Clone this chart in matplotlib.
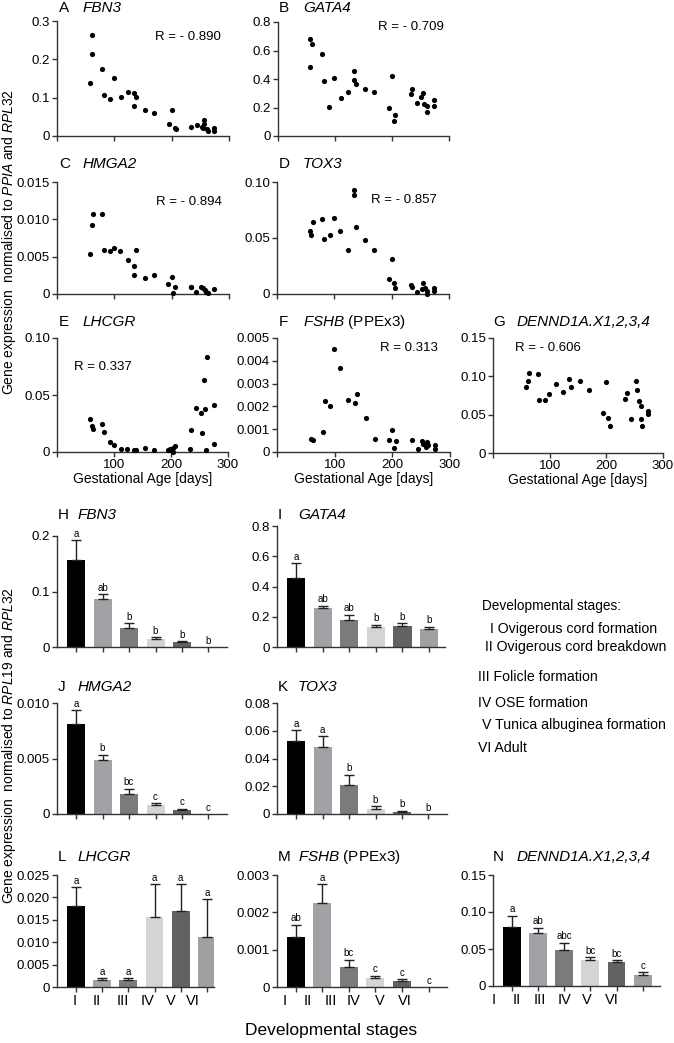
import matplotlib
matplotlib.use("Agg")
import matplotlib.pyplot as plt

plt.rcParams['font.family'] = ['Liberation Sans', 'DejaVu Sans']
plt.rcParams['mathtext.fontset'] = 'custom'
plt.rcParams['mathtext.rm'] = 'Liberation Sans'
plt.rcParams['mathtext.it'] = 'Liberation Sans:italic'

# ---- scatter data (gestational age in days vs expression) ----
A_age = [61.6, 61, 57, 79, 82, 92, 99, 111, 123, 135, 138, 135, 154, 170, 195, 201, 205, 207,
         234, 244, 253, 257, 256, 254, 262, 263, 274, 274]
A_val = [0.263, 0.215, 0.139, 0.176, 0.108, 0.097, 0.152, 0.101, 0.114, 0.111, 0.102, 0.078,
         0.069, 0.060, 0.031, 0.067, 0.022, 0.019, 0.024, 0.028, 0.024, 0.043, 0.031, 0.020,
         0.017, 0.012, 0.020, 0.013]

B_age = [57, 60, 57, 78, 81, 98, 90, 110, 123, 134, 134, 137, 153, 169, 194, 200, 205, 203,
         235, 233, 244, 254, 251, 257, 262, 262, 274, 274]
B_val = [0.682, 0.649, 0.482, 0.572, 0.383, 0.407, 0.207, 0.270, 0.308, 0.456, 0.395, 0.367,
         0.332, 0.308, 0.200, 0.421, 0.148, 0.108, 0.330, 0.296, 0.230, 0.301, 0.277, 0.224,
         0.212, 0.167, 0.254, 0.210]

C_age = [58, 61.6, 62.8, 79, 82, 92, 99, 110, 123, 134, 137, 134, 153, 169, 194, 200, 205,
         202, 233, 234, 242, 252, 255, 258, 260, 263, 274]
C_val = [0.0054, 0.0093, 0.0107, 0.0107, 0.0059, 0.0057, 0.0061, 0.0057, 0.0045, 0.0037,
         0.0059, 0.0026, 0.0021, 0.0026, 0.0013, 0.0023, 0.0009, 0.0001, 0.0009, 0.0010,
         0.0003, 0.0010, 0.0008, 0.0005, 0.0003, 0.0002, 0.0007]

D_age = [57, 60, 63, 79, 82, 92, 100, 110, 123, 135, 135, 138, 154, 170, 200, 195, 204, 206,
         233, 236, 245, 254, 253, 258, 262, 262, 274, 274]
D_val = [0.0564, 0.0525, 0.0644, 0.0668, 0.049, 0.0525, 0.0683, 0.0564, 0.0392, 0.0926,
         0.0888, 0.060, 0.048, 0.0392, 0.0309, 0.0131, 0.0095, 0.0056, 0.0077, 0.006, 0.0015,
         0.0095, 0.0045, 0.0051, 0.003, 0.0, 0.0051, 0.003]

E_age = [58.5, 61.4, 63, 79.5, 82.5, 92.4, 99.4, 111.7, 123, 135, 138, 153.8, 170, 194.7,
         198.8, 200.6, 203.5, 206.4, 203.5, 235.7, 234, 244.4, 252, 255, 257.3, 260, 263, 262,
         274.8, 274.8]
E_val = [0.0288, 0.0229, 0.0203, 0.025, 0.0174, 0.0085, 0.0065, 0.0024, 0.0024, 0.0015,
         0.0015, 0.0038, 0.0021, 0.0015, 0.0029, 0.0015, 0.0038, 0.0053, 0.0, 0.0197, 0.0029,
         0.0388, 0.0344, 0.0168, 0.0632, 0.0376, 0.0832, 0.0015, 0.0412, 0.0074]

F_age = [58.8, 63, 79.6, 82.4, 92.2, 99.7, 109.5, 123, 135, 138.4, 154, 170, 194.8, 200,
         205.9, 203.5, 233.5, 245, 251.4, 253.7, 257.8, 259.5, 262.3, 274, 274]
F_val = [0.00059, 0.00054, 0.00088, 0.00224, 0.00203, 0.00453, 0.00367, 0.00227, 0.00215,
         0.00253, 0.00149, 0.00059, 0.00051, 0.00095, 0.00047, 0.00018, 0.00054, 0.00012,
         0.00047, 0.00037, 0.00022, 0.00044, 0.00032, 0.00032, 0.00012]

G_age = [58.5, 61.4, 63, 79, 82, 92, 98.8, 111, 123, 134.5, 137.4, 153, 169.6, 194, 200, 203,
         206, 233, 236, 244, 251.5, 254.4, 257, 261, 261, 262.6, 274, 274]
G_val = [0.0857, 0.094, 0.104, 0.103, 0.069, 0.069, 0.0765, 0.0896, 0.0796, 0.0966, 0.0857,
         0.094, 0.0818, 0.0525, 0.0931, 0.0463, 0.0354, 0.0708, 0.0783, 0.045, 0.0944, 0.0822,
         0.0678, 0.0617, 0.045, 0.035, 0.0547, 0.0503]

# ---- bar data (developmental stages) ----
stages = ['I', 'II', 'III', 'IV', 'V', 'VI']
stage_names = ['I Ovigerous cord formation', 'II Ovigerous cord breakdown',
               'III Folicle formation', 'IV OSE formation',
               'V Tunica albuginea formation', 'VI Adult']

H_mean = [0.157, 0.0865, 0.034, 0.0144, 0.009, 0]
H_err = [0.035, 0.0085, 0.009, 0.003, 0.0018, 0]
H_sig = ['a', 'ab', 'b', 'b', 'b', 'b']

I_mean = [0.454, 0.26, 0.177, 0.135, 0.14, 0.12]
I_err = [0.102, 0.012, 0.036, 0.012, 0.019, 0.013]
I_sig = ['a', 'ab', 'ab', 'b', 'b', 'b']

J_mean = [0.0081, 0.0049, 0.00183, 0.00078, 0.00039, 0]
J_err = [0.00124, 0.00045, 0.00045, 0.00021, 0.00009, 0]
J_sig = ['a', 'b', 'bc', 'c', 'c', 'c']

K_mean = [0.0529, 0.048, 0.0211, 0.0036, 0.0014, 0]
K_err = [0.0074, 0.008, 0.0073, 0.0019, 0.001, 0]
K_sig = ['a', 'a', 'b', 'b', 'b', 'b']

L_mean = [0.0181, 0.0015, 0.0015, 0.0156, 0.0169, 0.0111]
L_err = [0.0042, 0.0004, 0.0005, 0.0073, 0.0061, 0.0085]
L_sig = ['a', 'a', 'a', 'a', 'a', 'a']

M_mean = [0.00133, 0.00224, 0.00054, 0.00024, 0.00015, 0]
M_err = [0.00034, 0.00051, 0.00019, 0.00006, 0.00006, 0]
M_sig = ['ab', 'a', 'bc', 'c', 'c', 'c']

N_mean = [0.0802, 0.0712, 0.0482, 0.0347, 0.032, 0.0153]
N_err = [0.0148, 0.0076, 0.0104, 0.004, 0.0031, 0.0032]
N_sig = ['a', 'ab', 'abc', 'bc', 'bc', 'c']

bar_colors = ['#000000', '#a2a2a6', '#7b7b7b', '#d4d4d4', '#626262', '#a0a0a0']

# ---- layout (pixels) ----
W, H = 674, 1043
fig = plt.figure(figsize=(W / 100, H / 100), dpi=100)


def box(l, t, r, b):
    return [l / W, 1 - b / H, (r - l) / W, (b - t) / H]


def ftext(x, y, s, **kw):
    fig.text(x / W, 1 - y / H, s, **kw)


def style_axes(ax):
    for side in ['top', 'right']:
        ax.spines[side].set_visible(False)
    for side in ['left', 'bottom']:
        ax.spines[side].set_color('#333333')
        ax.spines[side].set_linewidth(1.0)
    ax.tick_params(direction='out', length=3.5, width=1.0, color='#333333',
                   labelsize=9.5, pad=1.5)


def title(x, y, letter, gene, gap=24, extra=None):
    ftext(x, y, letter, fontsize=11, va='center', ha='left')
    if extra:
        ftext(x + gap, y, r'$\mathit{%s}$ %s' % (gene, extra), fontsize=11, va='center', ha='left')
    else:
        ftext(x + gap, y, gene, fontsize=11, style='italic', va='center', ha='left')


def scatter_panel(rect, age, val, yticks, ylabels, show_x):
    ax = fig.add_axes(box(*rect))
    ax.scatter(age, val, s=14, color='black', linewidths=0, clip_on=False, zorder=3)
    ax.set_xlim(0, 300)
    ax.set_ylim(yticks[0], yticks[-1])
    ax.set_yticks(yticks, ylabels)
    if show_x:
        ax.set_xticks([0, 100, 200, 300], ['', '100', '200', '300'])
        ax.set_xlabel('Gestational Age [days]', fontsize=10, labelpad=1)
    else:
        ax.set_xticks([0, 100, 200, 300], ['', '', '', ''])
    style_axes(ax)
    return ax


def bar_panel(rect, mean, err, sig, yticks, ylabels, xlim=(-0.72, 5.7), lab_pos=None):
    ax = fig.add_axes(box(*rect))
    x = list(range(len(mean)))
    ax.bar(x, mean, width=0.68, color=bar_colors, zorder=2)
    ex = [i for i in x if err[i] > 0]
    ax.errorbar(ex, [mean[i] for i in ex], yerr=[[0] * len(ex), [err[i] for i in ex]],
                fmt='none', ecolor='#222222', elinewidth=1.0, capsize=3.5, capthick=1.0,
                zorder=3)
    for i in x:
        ax.annotate(sig[i], (i, mean[i] + err[i]), xytext=(0, 1), textcoords='offset points',
                    ha='center', va='bottom', fontsize=7)
    ax.set_xlim(*xlim)
    ax.set_ylim(yticks[0], yticks[-1])
    ax.set_yticks(yticks, ylabels)
    ax.set_xticks(x, [''] * len(x))
    style_axes(ax)
    if lab_pos is not None:
        ax.set_xticks(lab_pos, stages, minor=True)
        ax.tick_params(axis='x', which='minor', length=0, labelsize=10.5, pad=5)
    return ax


# ---- scatter panels A-G ----
scatter_panel((57, 21, 229, 136), A_age, A_val, [0, 0.1, 0.2, 0.3], ['0', '0.1', '0.2', '0.3'], False)
scatter_panel((278, 22, 449, 136), B_age, B_val, [0, 0.2, 0.4, 0.6, 0.8],
              ['0', '0.2', '0.4', '0.6', '0.8'], False)
scatter_panel((57, 182, 229, 294), C_age, C_val, [0, 0.005, 0.010, 0.015],
              ['0', '0.005', '0.010', '0.015'], False)
scatter_panel((277, 182, 449, 294), D_age, D_val, [0, 0.05, 0.10], ['0', '0.05', '0.10'], False)
scatter_panel((57, 338, 228, 452), E_age, E_val, [0, 0.05, 0.10], ['0', '0.05', '0.10'], True)
scatter_panel((277, 338, 450, 452), F_age, F_val, [0, 0.001, 0.002, 0.003, 0.004, 0.005],
              ['0', '0.001', '0.002', '0.003', '0.004', '0.005'], True)
scatter_panel((493, 338, 663, 453), G_age, G_val, [0, 0.05, 0.10, 0.15],
              ['0', '0.05', '0.10', '0.15'], True)

title(59, 8, 'A', 'FBN3')
title(279, 8, 'B', 'GATA4')
title(59, 164, 'C', 'HMGA2')
title(279, 164, 'D', 'TOX3')
title(59, 322, 'E', 'LHCGR')
title(279, 322, 'F', 'FSHB', extra='(PPEx3)')
title(493, 322, 'G', 'DENND1A.X1,2,3,4')

ftext(188, 37, 'R = - 0.890', fontsize=9.5, ha='center', va='center')
ftext(411, 27, 'R = - 0.709', fontsize=9.5, ha='center', va='center')
ftext(189, 202, 'R = - 0.894', fontsize=9.5, ha='center', va='center')
ftext(404, 200, 'R = - 0.857', fontsize=9.5, ha='center', va='center')
ftext(74, 367, 'R = 0.337', fontsize=9.5, ha='left', va='center')
ftext(380, 348, 'R = 0.313', fontsize=9.5, ha='left', va='center')
ftext(515, 348, 'R = - 0.606', fontsize=9.5, ha='left', va='center')

ftext(9, 242, 'Gene expression  normalised to $\\mathit{PPIA}$ and $\\mathit{RPL32}$',
      fontsize=10, rotation=90, ha='center', va='center')

# ---- bar panels H-N ----
bar_panel((57, 536, 227, 647), H_mean, H_err, H_sig, [0, 0.1, 0.2], ['0', '0.1', '0.2'])
bar_panel((277, 526, 445, 647), I_mean, I_err, I_sig, [0, 0.2, 0.4, 0.6, 0.8],
          ['0', '0.2', '0.4', '0.6', '0.8'], xlim=(-0.72, 5.6))
bar_panel((57, 703, 227, 814), J_mean, J_err, J_sig, [0, 0.005, 0.010], ['0', '0.005', '0.010'])
bar_panel((277, 703, 447, 814), K_mean, K_err, K_sig, [0, 0.02, 0.04, 0.06, 0.08],
          ['0', '0.02', '0.04', '0.06', '0.08'])
bar_panel((57, 875, 214, 987), L_mean, L_err, L_sig,
          [0, 0.005, 0.010, 0.015, 0.020, 0.025],
          ['0', '0.005', '0.010', '0.015', '0.020', '0.025'],
          xlim=(-0.72, 5.27), lab_pos=[-0.04, 0.79, 1.8, 2.75, 3.64, 4.46])
bar_panel((277, 875, 447, 987), M_mean, M_err, M_sig, [0, 0.001, 0.002, 0.003],
          ['0', '0.001', '0.002', '0.003'],
          xlim=(-0.7, 5.69), lab_pos=[-0.42, 0.46, 1.32, 2.16, 3.17, 4.11])
bar_panel((493, 875, 660, 986), N_mean, N_err, N_sig, [0, 0.05, 0.10, 0.15],
          ['0', '0.05', '0.10', '0.15'],
          xlim=(-0.72, 5.66), lab_pos=[-0.70, 0.2, 1.08, 2.03, 2.88, 3.82])

title(58, 515, 'H', 'FBN3', gap=20)
title(278, 515, 'I', 'GATA4', gap=20)
title(58, 687, 'J', 'HMGA2', gap=20)
title(278, 687, 'K', 'TOX3', gap=20)
title(58, 857, 'L', 'LHCGR', gap=20)
title(278, 857, 'M', 'FSHB', gap=20, extra='(PPEx3)')
title(493, 857, 'N', 'DENND1A.X1,2,3,4', gap=24)

ftext(9, 746, 'Gene expression  normalised to $\\mathit{RPL19}$ and $\\mathit{RPL32}$',
      fontsize=10, rotation=90, ha='center', va='center')
ftext(331, 1031, 'Developmental stages', fontsize=12.5, ha='center', va='center')

# stage legend
ftext(482, 606, 'Developmental stages:', fontsize=9.8, ha='left', va='center')
legend_x = [490, 485, 478, 478, 482, 478]
legend_y = [629, 647, 677, 703, 725, 748]
for name, lx, ly in zip(stage_names, legend_x, legend_y):
    ftext(lx, ly, name, fontsize=10.2, ha='left', va='center')

fig.savefig('out.png', dpi=100)
